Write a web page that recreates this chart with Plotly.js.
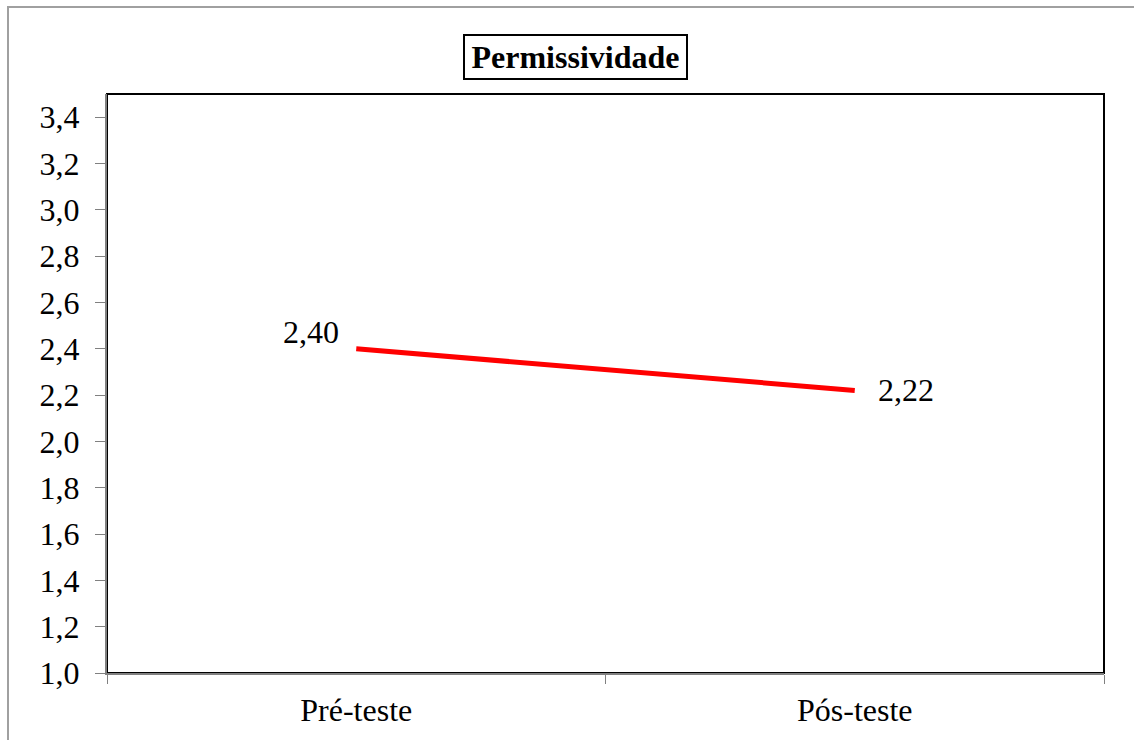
<!DOCTYPE html>
<html>
<head>
<meta charset="utf-8">
<script src="https://cdn.plot.ly/plotly-3.0.1.min.js"></script>
<style>
  html, body { margin: 0; padding: 0; background: #fff; }
  #chart { width: 1134px; height: 740px; }
</style>
</head>
<body>
<div id="chart"></div>
<script>
const categories = ['Pré-teste', 'Pós-teste'];
const values = [2.40, 2.22];
const chartTitle = 'Permissividade';
const yTickVals = [1.0, 1.2, 1.4, 1.6, 1.8, 2.0, 2.2, 2.4, 2.6, 2.8, 3.0, 3.2, 3.4];

const serif = "'Liberation Serif', 'Times New Roman', Times, serif";
const fmt = v => v.toFixed(2).replace('.', ',');

const labelStyles = [
  { xanchor: 'right', xshift: -15, yshift: 17 },
  { xanchor: 'left', xshift: 21, yshift: 0 }
];

const annotations = categories.map((c, i) => Object.assign({
  x: c, y: values[i], xref: 'x', yref: 'y',
  text: fmt(values[i]), showarrow: false, yanchor: 'middle',
  font: { family: serif, size: 32, color: '#000' }
}, labelStyles[i]));

annotations.push({
  xref: 'paper', yref: 'paper', x: 0.4704, y: 1.0639,
  xanchor: 'center', yanchor: 'middle', showarrow: false,
  text: '<b>' + chartTitle + '</b>',
  font: { family: serif, size: 32, color: '#000' },
  bordercolor: '#000', borderwidth: 2, borderpad: 2,
  bgcolor: '#fff', width: 217, height: 38
});

const trace = {
  x: categories, y: values, type: 'scatter', mode: 'lines',
  line: { color: '#FF0000', width: 5 },
  hoverinfo: 'none', cliponaxis: false
};

const layout = {
  width: 1134, height: 740,
  margin: { l: 107, r: 30, t: 94, b: 67 },
  paper_bgcolor: '#fff', plot_bgcolor: '#fff',
  separators: ',.',
  showlegend: false,
  font: { family: serif, size: 32, color: '#000' },
  xaxis: {
    type: 'category', range: [-0.5, 1.5],
    tickson: 'boundaries', ticks: 'outside', ticklen: 9, tickwidth: 1, tickcolor: '#808080',
    showline: true, linecolor: '#808080', linewidth: 2,
    showgrid: false, zeroline: false, ticklabelstandoff: 8,
    tickfont: { family: serif, size: 32, color: '#000' }
  },
  yaxis: {
    range: [1.0, 3.5], tickvals: yTickVals, tickformat: '.1f',
    ticks: 'outside', ticklen: 10, tickwidth: 1, tickcolor: '#808080',
    showline: true, linecolor: '#808080', linewidth: 2,
    showgrid: false, zeroline: false, ticklabelstandoff: 9,
    tickfont: { family: serif, size: 32, color: '#000' }
  },
  shapes: [
    { type: 'rect', xref: 'paper', yref: 'paper', x0: 0, x1: 1, y0: 0, y1: 1,
      line: { color: '#000', width: 2 }, layer: 'below' },
    { type: 'rect', xref: 'paper', yref: 'paper', x0: -0.0993, x1: 1.05, y0: -0.15, y1: 1.1503,
      line: { color: '#A0A0A0', width: 2 }, layer: 'below' }
  ],
  annotations: annotations
};

Plotly.newPlot('chart', [trace], layout, { displayModeBar: false, staticPlot: true });
</script>
</body>
</html>
